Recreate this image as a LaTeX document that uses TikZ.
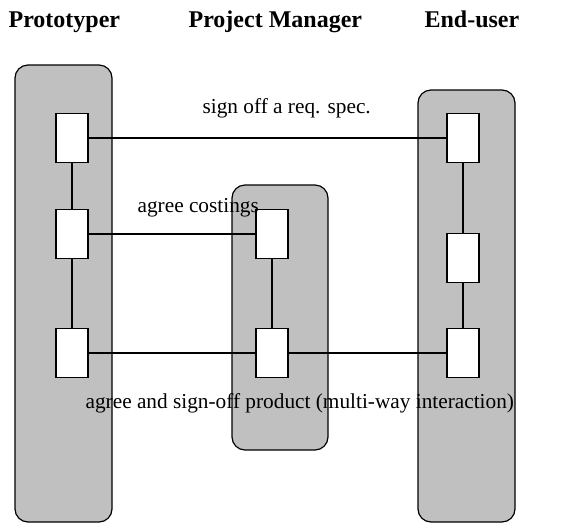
\documentclass[tikz,border=0pt]{standalone}
\usepackage{fontspec}
\setmainfont{Liberation Serif}
\definecolor{laneGray}{RGB}{192,192,192}
\begin{document}
\begin{tikzpicture}[x=1pt, y=-1pt, line width=1.2pt,
        lane/.style={draw, fill=laneGray, rounded corners=13pt},
        activity/.style={draw, fill=white, line width=1.5pt, inner sep=0pt,
            minimum width=32pt, minimum height=49pt},
        role/.style={font=\fontsize{24}{28}\selectfont\bfseries, anchor=base west, inner sep=0pt},
        msg/.style={font=\fontsize{21.3}{24}\selectfont, anchor=base west, inner sep=0pt}]
        \useasboundingbox (0,0) rectangle (574,523);
        % swim lanes
        \foreach \left/\top/\right/\bottom in {15/65/112/522, 232/185/328/450, 418/90/515/522}
            \draw[lane] (\left,\top) rectangle (\right,\bottom);
        % activities in each lane
        \foreach \index/\height in {1/138,2/234,3/353}
            \node[activity] (proto-\index) at (72,\height) {};
        \foreach \index/\height in {1/234,2/353}
            \node[activity] (manager-\index) at (272,\height) {};
        \foreach \index/\height in {1/138,2/258,3/353}
            \node[activity] (user-\index) at (463,\height) {};
        \draw (proto-1) -- (proto-2) -- (proto-3);
        \draw (manager-1) -- (manager-2);
        \draw (user-1) -- (user-2) -- (user-3);
        % interactions
        \draw (proto-1) -- (user-1);
        \draw (proto-2) -- (manager-1);
        \draw (proto-3) -- (manager-2) -- (user-3);
        \node[msg] (signoff) at (202,113) {sign off a req. spec.};
        \node[msg] (costings) at (137,212) {agree costings};
        \node[msg] (product) at (85,408) {agree and sign-off product (multi-way interaction)};
        % roles
        \node[role] (prototyper) at (8,27) {Prototyper};
        \node[role] (manager) at (188,27) {Project Manager};
        \node[role] (enduser) at (424,27) {End-user};
    \end{tikzpicture}
\end{document}
